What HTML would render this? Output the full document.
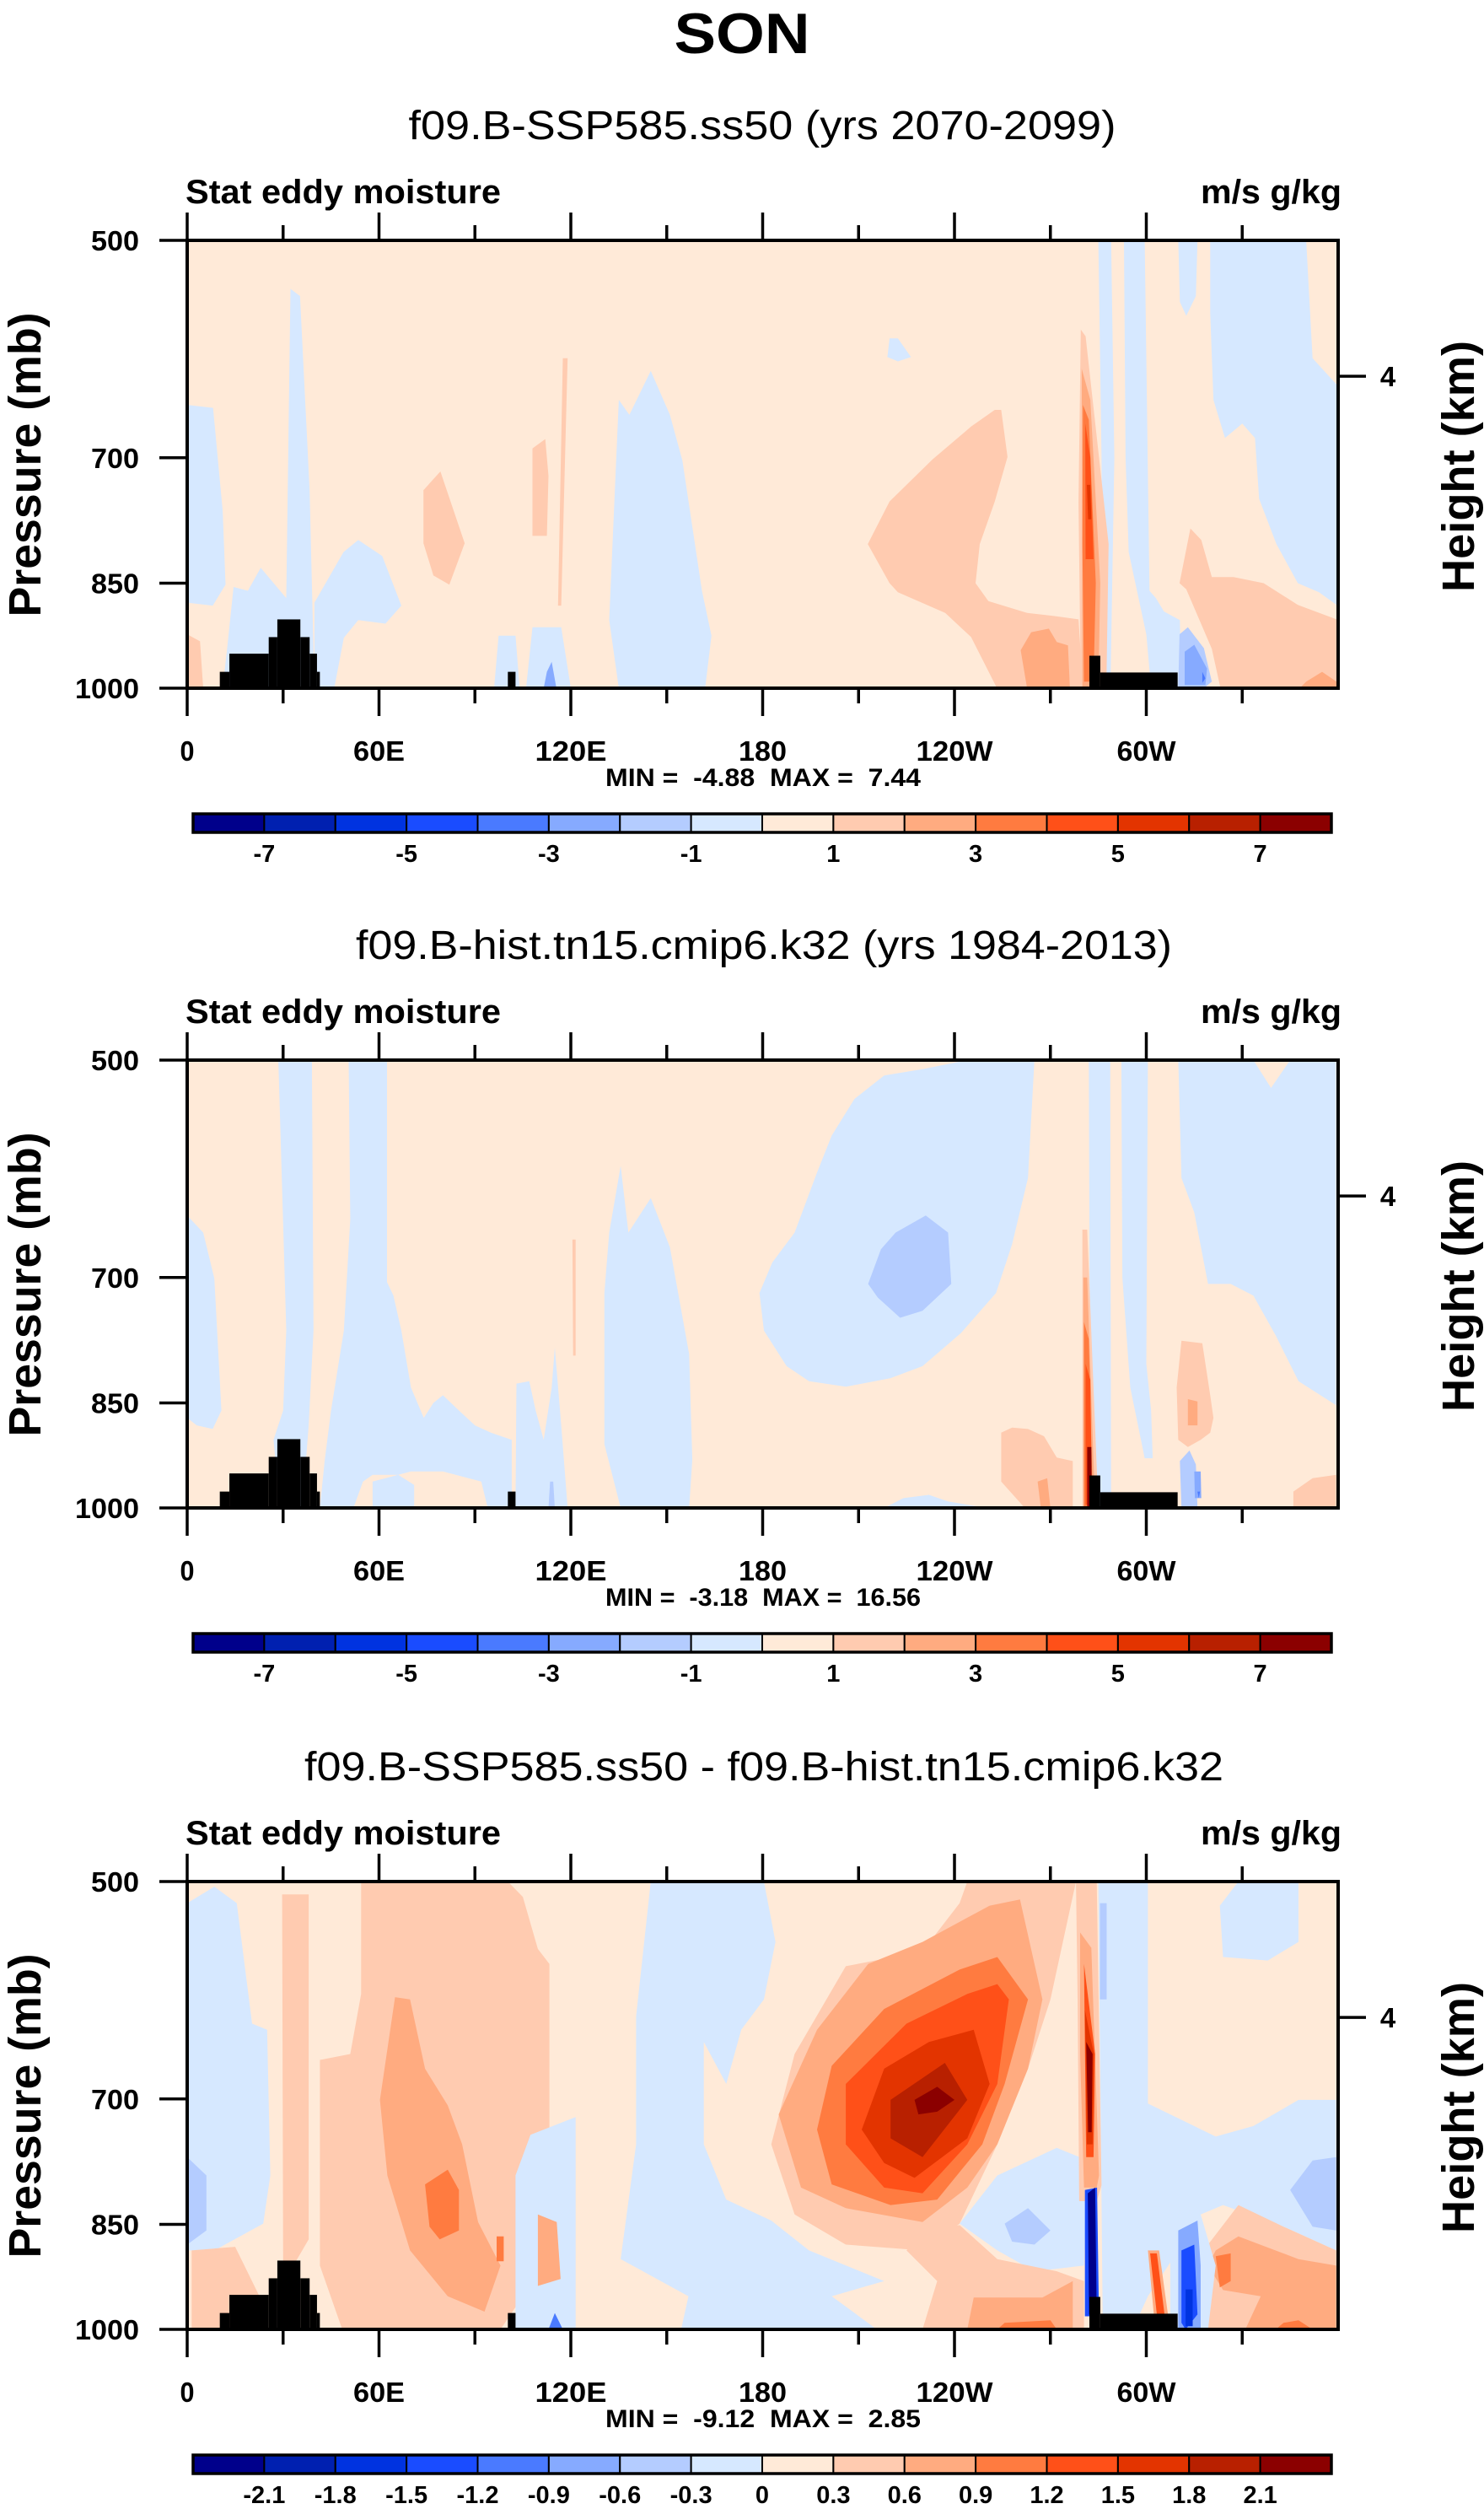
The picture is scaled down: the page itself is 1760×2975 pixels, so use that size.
<!DOCTYPE html>
<html><head><meta charset="utf-8"><title>SON Stat eddy moisture</title>
<style>
html,body{margin:0;padding:0;background:#fff;}
svg{display:block;}
text{font-family:"Liberation Sans",Arial,sans-serif;fill:#000;}
.b{font-weight:bold;}
.pre{white-space:pre;}
</style></head>
<body>
<svg id="chart" xmlns="http://www.w3.org/2000/svg" width="1760" height="2975" viewBox="0 0 1760 2975">
<rect x="0" y="0" width="1760" height="2975" fill="#fff"/>
<text class="b" x="880" y="63" font-size="68" text-anchor="middle" textLength="161" lengthAdjust="spacingAndGlyphs">SON</text>
</svg>
<script>
// ---------- data ----------
const COLORS=['#00008b','#0020b0','#0033e0','#1a4cff','#4a7aff','#86aaff','#b4ccff','#d6e8ff','#ffead8','#ffcbb0','#ffab80','#ff7b40','#ff5018','#e33400','#b82000','#8b0000'];
const BASE_LEVEL=8;
const panelTitles=['f09.B-SSP585.ss50 (yrs 2070-2099)','f09.B-hist.tn15.cmip6.k32 (yrs 1984-2013)','f09.B-SSP585.ss50 - f09.B-hist.tn15.cmip6.k32'];
const panelMins=[-4.88,-3.18,-9.12];
const panelMaxs=[7.44,16.56,2.85];
const xTickLons=[0,30,60,90,120,150,180,210,240,270,300,330];
const xLabelLons=[0,60,120,180,240,300];
const xLabels=['0','60E','120E','180','120W','60W'];
const yTickP=[500,700,850,1000];
const yLabels=['500','700','850','1000'];
const heightTickP=[617];
const heightLabels=['4'];
const cbLabelsAbs=[-7,-5,-3,-1,1,3,5,7];
const cbStepAbs=1;
const cbLabelsDiff=[-2.1,-1.8,-1.5,-1.2,-0.9,-0.6,-0.3,0,0.3,0.6,0.9,1.2,1.5,1.8,2.1];
const cbStepDiff=0.3;
// terrain: [lon0, lon1, top pressure]
const terrain=[[10.2,13.2,975],[13.2,25.5,948],[25.5,28.2,924],[28.2,35.4,899],[35.4,38.3,924],[38.3,40.6,948],[40.6,41.5,975],[100.3,102.7,975],[282.2,285.6,951],[285.6,309.8,976]];
// contour regions: [level index, [[lon, pressure], ...]]
const shapes1=[
[7,[[0,645],[8.1,648],[11.1,760],[12,852],[8,880],[0,876]]],
[7,[[32.3,539],[35.3,545],[38.3,736],[39.8,1000],[11.1,1000],[12.5,940],[14.5,855],[19,860],[23,830],[31,870]]],
[7,[[39.8,876],[48.9,810],[53.5,795],[61,815],[67,880],[62,905],[53.5,900],[49,925],[46,1000],[39.8,1000]]],
[9,[[73.9,736],[79.2,715],[86.8,799],[82,852],[77,840],[73.9,799]]],
[9,[[108,690],[112,680],[113,720],[112.5,790],[108,790]]],
[9,[[117.5,600],[119,600],[117,880],[116,880]]],
[7,[[132,900],[135,640],[138.3,655],[145,612],[151,655],[154.9,703],[161,860],[164,922],[162,1000],[135,1000]]],
[7,[[97.4,922],[102.7,922],[104,1000],[96,1000]]],
[7,[[108,910],[117,910],[120,1000],[106,1000]]],
[5,[[112.5,975],[114,960],[115.5,1000],[111.5,1000]]],
[9,[[0,920],[4,930],[5,1000],[0,1000]]],
[7,[[219.7,582],[222.3,582],[226.4,599],[222.3,603],[219,599]]],
[9,[[252.6,650],[254.6,650],[256.6,699],[252.6,749],[247.9,800],[246.6,850],[250.6,874],[262.7,890],[270.8,894],[278.8,899],[280.2,1000],[253.3,1000],[245.2,924],[237.1,890],[222.3,862],[219.7,850],[212.9,800],[219.7,749],[233.1,702],[245.2,667]]],
[10,[[260.7,943],[264,917],[269.5,912],[272,931],[275.5,936],[276.1,1000],[262.7,1000]]],
[7,[[285,500],[289,500],[290,700],[288.8,1000],[286.5,1000],[286,700]]],
[7,[[293,500],[299.5,500],[301,860],[303,870],[305.5,888],[310.5,900],[311,1000],[301.5,1000],[300,920],[294.5,810],[293.5,700]]],
[7,[[310,500],[316,500],[315.5,545],[312.5,562],[310.5,550]]],
[7,[[320,500],[350,500],[352,600],[359.5,625],[359.5,879],[354,862],[347.4,850],[340.7,800],[335.3,746],[334,679],[330,664],[324.6,679],[321,640],[320,560]]],
[9,[[310.4,850],[313.8,781],[317.2,795],[320.5,842],[327.3,842],[336.7,850],[347.4,879],[359.5,899],[359.5,1000],[323.2,1000],[320.5,941],[312.5,858]]],
[10,[[350,990],[355,975],[359.5,990],[359.5,1000],[348,1000]]],
[6,[[310.4,920],[313,910],[318,940],[320.5,990],[318,1000],[310,1000]]],
[5,[[312,945],[315,935],[319,970],[318.5,995],[312,995]]],
[4,[[317.5,975],[318.5,985],[317.5,992]]],
[9,[[279.5,574],[281,580],[288.2,800],[287.5,1000],[279.5,1000],[278.8,750]]],
[10,[[279.8,610],[282.5,640],[285.6,850],[285,1000],[280,1000]]],
[11,[[280.2,645],[282,660],[284.2,850],[283.5,990],[280.5,990],[280,800]]],
[12,[[280.9,664],[282.5,700],[283.5,819],[281,819]]],
[13,[[281.4,730],[282.5,730],[282.8,770],[281.8,770]]]
];
const shapes2=[
[7,[[0,636],[5,653],[8.5,701],[10.7,860],[8,885],[3,880],[0,870]]],
[7,[[28.5,500],[39,500],[39.5,760],[38,880],[36,1000],[30,1000],[28,950],[27,900],[30,860],[31,760]]],
[7,[[50.5,500],[62.5,500],[62.5,705],[64.5,720],[67,760],[70,830],[74,870],[77,850],[80,840],[85,860],[90,880],[95,890],[101.5,900],[101.5,1000],[94,1000],[92,960],[80,945],[70,945],[66,950],[58,950],[55,960],[52,1000],[41.5,1000],[43,930],[45,860],[49,760],[51,640]]],
[7,[[58,960],[66,950],[71,965],[71,1000],[58,1000]]],
[7,[[102.7,1000],[103,825],[107,822],[109,860],[111.5,900],[114,830],[115,780],[117,880],[119,1000]]],
[6,[[113.5,960],[114.5,960],[115,1000],[113,1000]]],
[7,[[135.6,589],[138,653],[145,619],[151,668],[157,788],[158,928],[157,1000],[135.6,1000],[130.5,906],[130.5,717],[132,653]]],
[9,[[120.5,660],[121.5,660],[121.5,790],[120.7,790]]],
[7,[[244,500],[265,500],[263,600],[258,665],[253,717],[242,763],[230,803],[220,818],[206,829],[194.5,822],[187.5,803],[180.4,760],[179,717],[183,684],[190,653],[197,595],[201.6,562],[208.7,531],[218,512],[230,507]]],
[6,[[231,636],[238,653],[239,707],[230,737],[223,745],[216,722],[213,707],[217,670],[221.6,653]]],
[7,[[218,1000],[224,985],[232,980],[238,990],[250,1000]]],
[7,[[282,500],[288.7,500],[289,1000],[282.5,1000]]],
[7,[[292.2,500],[300.5,500],[300,800],[301.5,860],[302,926],[299.5,926],[295,830],[292.5,700]]],
[7,[[310,500],[333.5,500],[339,522],[345,500],[359.4,500],[359.4,853],[347.6,822],[340.5,766],[333.5,720],[326.4,707],[319.3,707],[315,633],[311,600]]],
[9,[[311,772],[317.5,775],[320,840],[321,870],[320,890],[317,900],[313,910],[310,900],[309.5,830]]],
[10,[[313,845],[316,848],[316,880],[313,880]]],
[6,[[310.5,930],[313.5,915],[315.5,935],[316,1000],[311,1000]]],
[5,[[315,945],[317,945],[317.2,985],[315.2,985]]],
[4,[[316,975],[316.8,975],[316.4,985]]],
[9,[[254.6,890],[258,883],[263,885],[268,895],[272,925],[277,930],[277,1000],[262,1000],[254.6,960]]],
[10,[[266,960],[269,955],[270,1000],[267,1000]]],
[9,[[280,650],[281.5,650],[285,1000],[280,1000]]],
[10,[[280.3,700],[281.5,700],[284,1000],[280.3,1000]]],
[11,[[280.5,750],[282,770],[283.3,1000],[280.5,1000]]],
[12,[[281,800],[282.5,820],[283,995],[281,995]]],
[15,[[281.5,910],[282.8,910],[283,1000],[281.5,1000]]],
[9,[[346,975],[352,955],[359.4,950],[359.4,1000],[346,1000]]]
];
const shapes3=[
[7,[[0,517],[8.5,504],[15.5,517],[20.3,623],[25,629],[26,788],[23.8,849],[8.5,885],[0,885]]],
[6,[[0,766],[6,788],[6,858],[0,877]]],
[9,[[54.4,500],[100.3,500],[105,512],[109.7,555],[113.3,568],[113.3,788],[105,950],[98,1000],[48.5,1000],[41.5,906],[41.5,659],[51,653],[54.4,595]]],
[9,[[29.7,510],[38,510],[38,870],[34,900],[30,900]]],
[9,[[1.4,885],[15,880],[22.6,950],[22.6,1000],[1.4,1000]]],
[10,[[65,598],[69.7,600],[74.4,668],[81.5,707],[86,751],[91,847],[98,906],[93,973],[81.5,950],[69.7,885],[62.6,788],[60.3,701]]],
[11,[[74.4,799],[81.5,781],[85,806],[85,858],[79,870],[75.8,853]]],
[11,[[96.8,866],[99,866],[99,900],[96.8,900]]],
[7,[[102.7,788],[107.4,740],[121.5,720],[121.5,1000],[102.7,1000]]],
[10,[[109.7,837],[115.6,847],[116.8,925],[109.7,935]]],
[4,[[113,1000],[115,975],[117.5,1000]]],
[7,[[145,500],[180.4,500],[184,549],[180.4,600],[173.3,629],[168.6,684],[161.6,641],[161.6,751],[168.6,818],[182.7,845],[194.5,885],[218,928],[201.6,950],[215.7,1000],[154.5,1000],[156.8,950],[135.6,897],[140.4,751],[140.4,616]]],
[7,[[241.6,849],[253.4,788],[272,755],[281.7,770],[280.5,906],[265,914],[253.4,885]]],
[9,[[244,500],[278,500],[270,600],[263,668],[253.4,751],[241.6,849],[230,885],[206,877],[190,837],[182.7,751],[190,653],[206,570],[230,557],[241.6,517]]],
[9,[[230,858],[241.6,851],[253.4,897],[272,914],[280.5,928],[280.5,1000],[230,1000],[234.6,928],[225,885]]],
[10,[[260.5,514],[267.5,600],[263,668],[253.4,751],[244,803],[230,847],[206,829],[192,803],[185,717],[197,629],[213,568],[230,549],[251,519]]],
[10,[[246,952],[267.5,952],[277,928],[277,1000],[244,1000]]],
[11,[[255.7,990],[270,986],[272,1000],[253.4,1000]]],
[11,[[253.4,562],[263,600],[255.7,684],[248.7,751],[234.6,818],[220,825],[201.6,799],[197,734],[201.6,665],[218,609],[241.6,573]]],
[12,[[253.4,586],[257,600],[253.4,684],[244,751],[230,810],[218,803],[206,751],[206,684],[225,623],[244,595]]],
[13,[[246,629],[251,684],[244,744],[227.5,791],[218,773],[211,734],[218,668],[232,641]]],
[14,[[237,662],[244,701],[230,766],[220,744],[220,701]]],
[15,[[234.6,687],[240,701],[234.6,714],[228.7,717],[227.5,701]]],
[6,[[263,829],[270,858],[265,877],[258,873],[255.7,849]]],
[7,[[285,500],[300.5,500],[300.5,705],[321.7,742],[333.5,730],[347.6,701],[359.4,701],[359.4,885],[342.9,853],[324,825],[317,837],[310,885],[300.5,950],[295.8,1000],[286.4,1000]]],
[7,[[328.8,500],[347.6,500],[347.6,549],[338,565],[324,562],[323,519]]],
[6,[[285.5,517],[287.6,517],[287.6,600],[285.5,600]]],
[6,[[359.4,766],[352,770],[345,806],[352,853],[359.4,858]]],
[9,[[319.3,877],[328.8,825],[342.9,853],[359.4,885],[359.4,1000],[307.7,1000],[317,928]]],
[10,[[321.7,885],[328.8,866],[347.6,897],[359.4,906],[359.4,1000],[331,1000],[335.8,950],[324,941],[319.3,906]]],
[11,[[321.7,893],[326.4,889],[326.4,928],[323,937]]],
[11,[[342.9,990],[347.6,986],[352,1000],[340.5,1000]]],
[7,[[307.5,837],[317,837],[321.7,906],[319.3,1000],[307.5,1000]]],
[5,[[310,858],[316,845],[317,906],[317,1000],[310,1000]]],
[3,[[311,885],[315,877],[316,977],[312.3,1000],[311,990]]],
[2,[[312.3,940],[314.5,940],[314.5,995],[312.3,995]]],
[10,[[300.5,885],[304,885],[307,985],[302.5,985]]],
[12,[[301.2,889],[303.3,889],[305.7,977],[303.3,977]]],
[9,[[278,500],[284.5,500],[286,800],[284.5,820],[279,820],[278.5,600]]],
[10,[[279.3,541],[282.8,554],[285.2,788],[284.5,803],[280.5,803],[279.3,653]]],
[12,[[280.5,568],[284,653],[283.5,766],[281.2,766]]],
[13,[[280.8,610],[283.6,653],[283.2,751],[281.4,751]]],
[15,[[281.2,641],[283.2,653],[282.9,737],[281.8,737]]],
[3,[[280.8,806],[284.6,803],[285.2,980],[280.8,980]]],
[0,[[281.7,810],[284,803],[284.5,977],[282.1,977]]]
];
const allShapes=[shapes1,shapes2,shapes3];

// ---------- layout ----------
const NS='http://www.w3.org/2000/svg';
const svg=document.getElementById('chart');
const PL=222, PR=1587, PH=531;
const TOPS=[285,1257,2231];
function X(lon){return PL+lon/360*(PR-PL);}
function Yf(top){return function(p){return top+Math.log(p/500)/Math.LN2*PH;};}
function mk(tag,attrs,parent){const e=document.createElementNS(NS,tag);for(const k in attrs)e.setAttribute(k,attrs[k]);(parent||svg).appendChild(e);return e;}
function txt(s,attrs,parent){const e=mk('text',attrs,parent);e.textContent=s;return e;}

const titleLen=[839,968,1090];
const titleCx=[904,906,906];
const xLabelLen=[17,61,85,57,91,70];

TOPS.forEach(function(top,pi){
  const dy=top-285;
  const Y=Yf(top);
  const g=mk('g',{});
  
  
  const t=txt(panelTitles[pi],{x:titleCx[pi],y:165+dy,'font-size':48,'text-anchor':'middle',textLength:titleLen[pi],lengthAdjust:'spacingAndGlyphs'},g);
  
  
  const l=txt('Stat eddy moisture',{x:220,y:241+dy,'font-size':40,'class':'b',textLength:374,lengthAdjust:'spacingAndGlyphs'},g);
  
  
  const r=txt('m/s g/kg',{x:1424,y:241+dy,'font-size':40,'class':'b',textLength:167,lengthAdjust:'spacingAndGlyphs'},g);
  
  
  const cp=mk('clipPath',{id:'clip'+pi},g);
  mk('rect',{x:PL,y:top,width:PR-PL,height:PH},cp);
  const field=mk('g',{'clip-path':'url(#clip'+pi+')'},g);
  
  
  mk('rect',{x:PL,y:top,width:PR-PL,height:PH,fill:COLORS[BASE_LEVEL]},field);
  allShapes[pi].forEach(function(s){
    const d='M'+s[1].map(function(pt){return X(pt[0]).toFixed(1)+','+Y(pt[1]).toFixed(1);}).join('L')+'Z';
    const path=mk('path',{d:d,fill:COLORS[s[0]]},field);
    
    
  });
  terrain.forEach(function(tr){
    const rc=mk('rect',{x:X(tr[0]),y:Y(tr[2]),width:X(tr[1])-X(tr[0]),height:Y(1000)-Y(tr[2]),fill:'#000'},field);
    
    
  });
  const fr=mk('rect',{x:PL,y:top,width:PR-PL,height:PH,fill:'none',stroke:'#000','stroke-width':4},g);
  
  
  xTickLons.forEach(function(lon){
    const major=lon%60===0;
    const len=major?33:18;
    const x=X(lon);
    mk('line',{x1:x,x2:x,y1:top+PH,y2:top+PH+len,stroke:'#000','stroke-width':3.5},g);
    mk('line',{x1:x,x2:x,y1:top,y2:top-len,stroke:'#000','stroke-width':3.5},g);
  });
  xLabelLons.forEach(function(lon,i){
    const e=txt(xLabels[i],{x:X(lon),y:902+dy,'font-size':33,'class':'b','text-anchor':'middle',textLength:xLabelLen[i],lengthAdjust:'spacingAndGlyphs'},g);
    
    
  });
  yTickP.forEach(function(p,i){
    const y=Y(p);
    mk('line',{x1:PL,x2:PL-33,y1:y,y2:y,stroke:'#000','stroke-width':3.5},g);
    const e=txt(yLabels[i],{x:165,y:y+12,'font-size':33,'class':'b','text-anchor':'end',textLength:yLabels[i].length*19,lengthAdjust:'spacingAndGlyphs'},g);
    
    
  });
  heightTickP.forEach(function(p,i){
    const y=Y(p);
    mk('line',{x1:PR,x2:PR+33,y1:y,y2:y,stroke:'#000','stroke-width':3.5},g);
    const e=txt(heightLabels[i],{x:1646,y:y+12,'font-size':33,'class':'b','text-anchor':'middle'},g);
    
    
  });
  const ya=txt('Pressure (mb)',{x:0,y:0,'font-size':54,'class':'b','text-anchor':'middle',textLength:361,lengthAdjust:'spacingAndGlyphs',transform:'translate(48,'+(551+dy)+') rotate(-90)'},g);
  
  
  const ha=txt('Height (km)',{x:0,y:0,'font-size':54,'class':'b','text-anchor':'middle',textLength:298,lengthAdjust:'spacingAndGlyphs',transform:'translate(1748,'+(553+dy)+') rotate(-90)'},g);
  
  
  const mm=txt('MIN =  '+panelMins[pi].toFixed(2)+'  MAX =  '+panelMaxs[pi].toFixed(2),{x:905,y:932+dy,'font-size':30,'class':'b pre','text-anchor':'middle',textLength:374,lengthAdjust:'spacingAndGlyphs'},g);
  
  
  const cb=mk('g',{},g);
  
  
  const cbx=229, cbw=1350, cby=965+dy, cbh=22, bw=cbw/16;
  COLORS.forEach(function(c,i){
    const rr=mk('rect',{x:cbx+i*bw,y:cby,width:bw,height:cbh,fill:c,stroke:'#000','stroke-width':2},cb);
    
    
  });
  mk('rect',{x:cbx,y:cby,width:cbw,height:cbh,fill:'none',stroke:'#000','stroke-width':3.5},cb);
  const labs=pi<2?cbLabelsAbs:cbLabelsDiff;
  const step=pi<2?cbStepAbs:cbStepDiff;
  labs.forEach(function(v){
    const idx=Math.round(v/step)+8;
    const s=pi<2?String(v):(v===0?'0':v.toFixed(1));
    const e=txt(s,{x:cbx+idx*bw,y:cby+57,'font-size':29,'class':'b','text-anchor':'middle'},cb);
    
    
  });
});
</script>
</body></html>
